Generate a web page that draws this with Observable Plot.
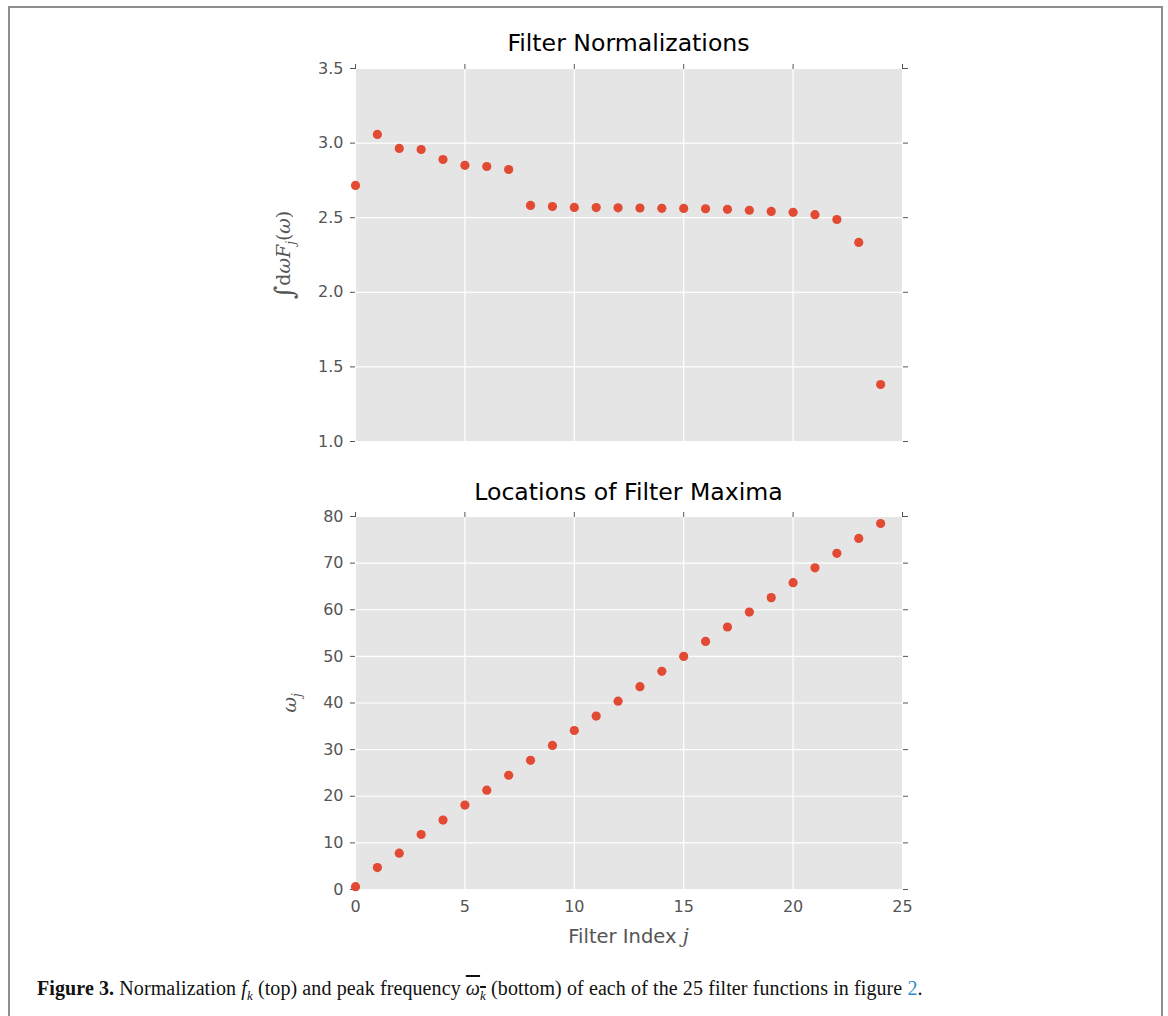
<!DOCTYPE html>
<html>
<head>
<meta charset="utf-8">
<script src="https://cdn.jsdelivr.net/npm/d3@7"></script>
<script src="https://cdn.jsdelivr.net/npm/@observablehq/plot@0.6"></script>
<style>
  html, body { margin: 0; padding: 0; background: #fff; }
  #page { position: relative; width: 1168px; height: 1016px; overflow: hidden; }
  #box { position: absolute; left: 8px; top: 6px; width: 1155px; height: 1030px; border: 2px solid #8d8d8d; box-sizing: border-box; }
  .chart { position: absolute; left: 0; }
  .title { position: absolute; left: 355px; width: 547px; text-align: center; font-family: "DejaVu Sans", sans-serif; font-size: 23.6px; line-height: 26px; color: #000; }
  .ylab { position: absolute; font-family: "DejaVu Serif", "Liberation Serif", serif; color: #555; white-space: nowrap; transform: translate(-50%, -50%) rotate(-90deg); }
  .xlab { position: absolute; left: 355px; width: 547px; text-align: center; font-family: "DejaVu Sans", sans-serif; font-size: 19.5px; line-height: 22px; color: #555; }
  .caption { position: absolute; left: 37px; top: 976px; font-family: "Liberation Serif", serif; font-size: 20px; line-height: 24px; color: #111; letter-spacing: 0.1px; white-space: nowrap; }
  i.m { font-family: "DejaVu Serif", "Liberation Serif", serif; font-style: italic; }
</style>
</head>
<body>
<div id="page">
  <div id="box"></div>
  <div class="title" style="top:30px">Filter Normalizations</div>
  <div class="title" style="top:479px">Locations of Filter Maxima</div>
  <div class="ylab" style="left:284px; top:255px; font-size:19px;"><span style="font-size:26px; font-style:italic; vertical-align:-3px;">∫</span>d<i>ω</i><i>F</i><sub style="font-size:12px;"><i>j</i></sub>(<i>ω</i>)</div>
  <div class="ylab" style="left:291px; top:703px; font-size:19px;"><i>ω</i><sub style="font-size:12px;"><i>j</i></sub></div>
  <div class="xlab" style="top:926px">Filter Index <i class="m">j</i></div>
  <div class="caption"><b>Figure 3.</b> Normalization <i>f<sub style="font-size:13px">k</sub></i> (top) and peak frequency <span style="text-decoration: overline;"><i>ω<sub style="font-size:13px">k</sub></i></span> (bottom) of each of the 25 filter functions in figure <span style="color:#2a8ccf">2</span>.</div>
</div>
<script>
// ---- data ----
const filterIndex = [0,1,2,3,4,5,6,7,8,9,10,11,12,13,14,15,16,17,18,19,20,21,22,23,24];
const normalizations = [2.716,3.058,2.964,2.957,2.890,2.851,2.843,2.823,2.582,2.575,2.569,2.568,2.566,2.565,2.563,2.562,2.560,2.556,2.550,2.542,2.536,2.520,2.488,2.334,1.382];
const maxima = [0.6,4.7,7.8,11.8,14.9,18.1,21.3,24.5,27.7,30.9,34.1,37.2,40.4,43.5,46.8,50.0,53.2,56.3,59.5,62.6,65.8,69.0,72.1,75.3,78.5];
const xTicks = [0,5,10,15,20,25];
const yTicksTop = [1.0,1.5,2.0,2.5,3.0,3.5];
const yTicksBottom = [0,10,20,30,40,50,60,70,80];

const topData = filterIndex.map((j, i) => ({j, v: normalizations[i]}));
const botData = filterIndex.map((j, i) => ({j, v: maxima[i]}));

const dotColor = "#e24a33";
const bg = "#e5e5e5";
const chartStyle = {background: "transparent", fontFamily: "DejaVu Sans, sans-serif", fontSize: "16px", color: "#555", overflow: "visible"};

function panel({data, yDomain, yTicks, fmt, height, marginTop, marginBottom, showX}) {
  return Plot.plot({
    width: 1168, height, marginLeft: 355, marginRight: 266, marginTop, marginBottom,
    style: chartStyle,
    x: {domain: [0, 25]},
    y: {domain: yDomain},
    marks: [
      Plot.frame({fill: bg, stroke: null}),
      Plot.gridX({ticks: xTicks, stroke: "#fff", strokeOpacity: 1, strokeWidth: 1.2}),
      Plot.gridY({ticks: yTicks, stroke: "#fff", strokeOpacity: 1, strokeWidth: 1.2}),
      Plot.axisY({ticks: yTicks, tickSize: 5, tickPadding: 7, tickFormat: fmt, label: null, stroke: "#555", fill: "#555"}),
      Plot.axisY({anchor: "right", ticks: yTicks, tickSize: 5, tickFormat: () => "", label: null, stroke: "#555"}),
      Plot.axisX({anchor: "top", ticks: xTicks, tickSize: 5, tickPadding: 1, tickFormat: () => "", label: null, stroke: "#555"}),
      showX
        ? Plot.axisX({anchor: "bottom", ticks: xTicks, tickSize: 0, tickPadding: 11, tickFormat: d => String(d), label: null, fill: "#555"})
        : Plot.axisX({anchor: "bottom", ticks: [], label: null}),
      Plot.dot(data, {x: "j", y: "v", r: 4.6, fill: dotColor, stroke: null})
    ]
  });
}

const topChart = panel({data: topData, yDomain: [1, 3.5], yTicks: yTicksTop, fmt: d => d.toFixed(1), height: 470, marginTop: 68, marginBottom: 29, showX: false});
topChart.classList.add("chart");
topChart.style.top = "0px";
const botChart = panel({data: botData, yDomain: [0, 80], yTicks: yTicksBottom, fmt: d => String(d), height: 480, marginTop: 46, marginBottom: 61, showX: true});
botChart.classList.add("chart");
botChart.style.top = "470px";
const page = document.getElementById("page");
page.insertBefore(botChart, page.children[1]);
page.insertBefore(topChart, page.children[1]);
</script>
</body>
</html>
